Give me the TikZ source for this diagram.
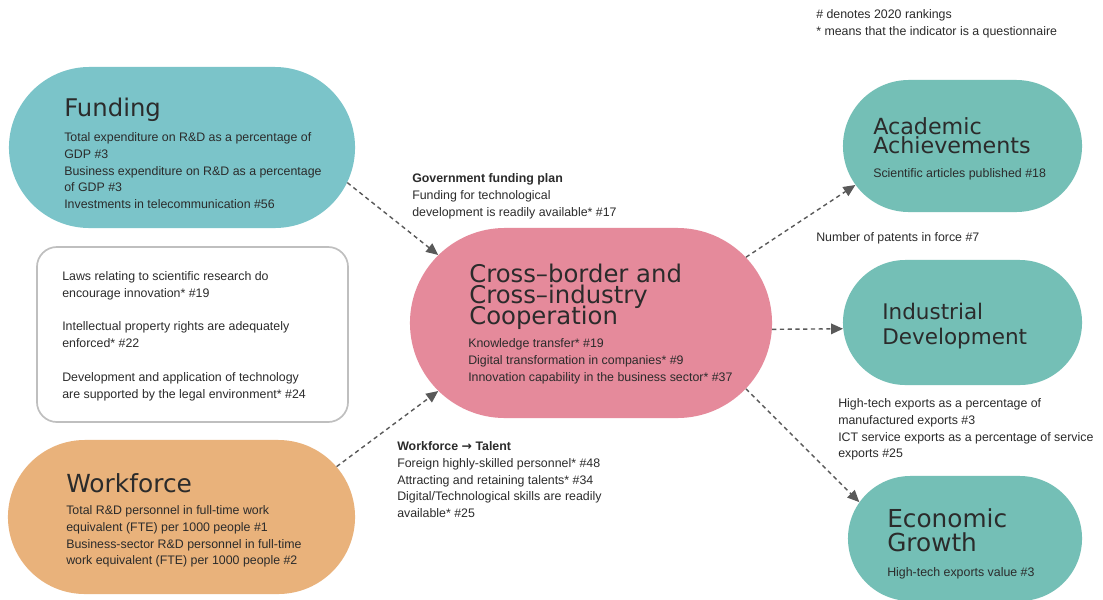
\documentclass[tikz,border=0pt]{standalone}
\usepackage{fontspec}
\setmainfont{Liberation Sans}
\newfontfamily\headfont{DejaVu Sans}
\usetikzlibrary{arrows.meta,shapes.misc}
\definecolor{fundcol}{HTML}{7BC4C9}
\definecolor{workcol}{HTML}{E9B27B}
\definecolor{coopcol}{HTML}{E58A9B}
\definecolor{outcol}{HTML}{74BFB6}
\definecolor{ink}{HTML}{2B2B2B}
\definecolor{arrcol}{HTML}{595959}

\begin{document}
\begin{tikzpicture}[x=0.025cm, y=-0.025cm, >={Triangle[length=8.5pt,width=7.5pt]},
  pill/.style={rounded rectangle, inner sep=0pt},
  txt/.style={anchor=north west, inner sep=0pt, align=left, text=ink, font=\fontsize{8.8}{12}\selectfont},
  ttl/.style args={#1/#2}{txt, font={\headfont\fontsize{#1}{#2}\selectfont\lineskiplimit=-20pt}},
  link/.style={->, arrcol, line width=1pt, dash pattern=on 3pt off 2.5pt}]
\path[use as bounding box, fill=white] (0,0) rectangle (1103,599);

\node[pill, fill=fundcol, minimum width=8.65cm, minimum height=4.025cm] (fund) at (182,147.5) {};
\node[pill, fill=workcol, minimum width=8.675cm, minimum height=3.85cm] (work) at (181.5,517) {};
\node[draw=gray!50, line width=1.2pt, rounded corners=0.5cm, minimum width=7.775cm, minimum height=4.375cm] (laws) at (192.5,334.5) {};
\node[pill, fill=coopcol, minimum width=9.05cm, minimum height=4.75cm] (coop) at (591,323) {};
\node[pill, fill=outcol, minimum width=5.975cm, minimum height=3.3cm] (acad) at (962.5,146) {};
\node[pill, fill=outcol, minimum width=5.975cm, minimum height=3.125cm] (ind) at (962.5,322.5) {};
\node[pill, fill=outcol, minimum width=5.85cm, minimum height=3.125cm] (econ) at (965,538.5) {};

\node[ttl=17.3/20] (fundT) at (64,98) {Funding};
\node[txt] (fundB) at (64,132) {Total expenditure on R\&D as a percentage of\\GDP \#3\\Business expenditure on R\&D as a percentage\\of GDP \#3\\Investments in telecommunication \#56};
\node[txt] (lawsB) at (62,271) {Laws relating to scientific research do\\encourage innovation* \#19\\[12pt]Intellectual property rights are adequately\\enforced* \#22\\[12pt]Development and application of technology\\are supported by the legal environment* \#24};
\node[ttl=17.7/20] (workT) at (66,473) {Workforce};
\node[txt] (workB) at (66,505) {Total R\&D personnel in full-time work\\equivalent (FTE) per 1000 people \#1\\Business-sector R\&D personnel in full-time\\work equivalent (FTE) per 1000 people \#2};

\node[ttl=17.3/14.8] (coopT) at (469,264) {Cross–border and\\Cross–industry\\Cooperation};
\node[txt] (coopB) at (468,338) {Knowledge transfer* \#19\\Digital transformation in companies* \#9\\Innovation capability in the business sector* \#37};
\node[txt] (govT) at (412,173) {\textbf{Government funding plan}\\Funding for technological\\development is readily available* \#17};
\node[txt] (talT) at (397,441) {\textbf{Workforce {\headfont →} Talent}\\Foreign highly-skilled personnel* \#48\\Attracting and retaining talents* \#34\\Digital/Technological skills are readily\\available* \#25};

\node[txt] (note) at (816,9) {\# denotes 2020 rankings\\{*} means that the indicator is a questionnaire};
\node[ttl=15.8/13.8] (acadT) at (873,117) {Academic\\Achievements};
\node[txt] (acadB) at (873,168) {Scientific articles published \#18};
\node[txt] (pat) at (816,232) {Number of patents in force \#7};
\node[ttl=15.3/17.7] (indT) at (882,303) {Industrial\\Development};
\node[txt] (hte) at (838,398) {High-tech exports as a percentage of\\manufactured exports \#3\\ICT service exports as a percentage of service\\exports \#25};
\node[ttl=17.6/17.7] (econT) at (887,508) {Economic\\Growth};
\node[txt] (econB) at (887,567) {High-tech exports value \#3};

\draw[link] (fund.-12) -- (coop.156.7);
\draw[link] (work.18) -- (coop.204);
\draw[link] (coop.23.7) -- (acad.200);
\draw[link] (coop.-2) -- (ind.183);
\draw[link] (coop.-23.6) -- (econ.161.5);
\end{tikzpicture}
\end{document}
